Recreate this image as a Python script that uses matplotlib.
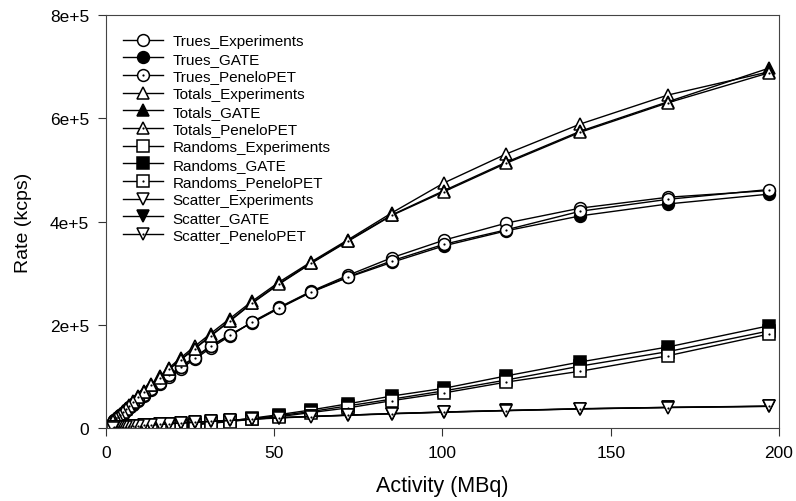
import matplotlib
matplotlib.use("Agg")
import matplotlib.pyplot as plt
import numpy as np

plt.rcParams['font.family'] = ['Liberation Sans', 'DejaVu Sans']

# Activity (MBq)
activity = [197, 167, 141, 119, 100.5, 85, 72, 61, 51.5, 43.5, 36.8, 31.1, 26.3, 22.2,
            18.8, 15.9, 13.4, 11.3, 9.6, 8.1, 6.8, 5.8, 4.9, 4.1, 3.5, 3.0, 2.5, 2.1]

# rates in kcps (values in thousands)
trues_exp = [460, 447, 426, 397, 364, 330, 296, 265, 234, 206, 178, 155, 133, 115,
             99, 85, 73, 62, 53, 45, 38.5, 33, 28, 23.5, 20, 17, 14.5, 12]
trues_gate = [453, 434, 411, 382, 353, 321, 292, 263, 232, 204, 181, 159, 137, 119,
              102, 88, 75, 64, 55, 47, 40, 34, 29, 24.5, 21, 18, 15, 12.5]
trues_pen = [462, 443, 420, 384, 356, 324, 293, 264, 233, 205, 180, 158, 136, 118,
             102, 87, 75, 64, 55, 47, 40, 34, 29, 24.5, 21, 18, 15, 12.5]

totals_exp = [690, 645, 589, 531, 475, 417, 365, 322, 283, 246, 212, 183, 158, 136,
              117, 100, 85, 72, 61.5, 52, 44, 37.5, 32, 27, 23, 19.5, 16.5, 14]
totals_gate = [697, 632, 575, 515, 460, 413, 363, 320, 280, 243, 208, 179, 154, 133,
               114, 98, 83, 70, 60, 51, 43, 37, 31, 26, 22, 19, 16, 13.5]
totals_pen = [688, 630, 573, 513, 458, 412, 362, 319, 279, 242, 207, 178, 153, 132,
              114, 97, 83, 70, 60, 51, 43, 37, 31, 26, 22, 19, 16, 13.5]

randoms_exp = [188, 148, 120, 93, 72, 56, 43, 32, 24, 18, 13, 9.5, 7, 5,
               3.7, 2.7, 1.9, 1.4, 1.0, 0.75, 0.55, 0.4, 0.3, 0.21, 0.15, 0.11, 0.08, 0.06]
randoms_gate = [198, 157, 128, 101, 77, 62, 47, 35, 26, 19, 14, 10.5, 7.5, 5.5,
                4, 2.9, 2.1, 1.5, 1.1, 0.8, 0.58, 0.42, 0.3, 0.22, 0.16, 0.12, 0.08, 0.06]
randoms_pen = [182, 140, 110, 89, 68, 53, 39, 30, 22, 17, 12.5, 9, 6.5, 4.7,
               3.4, 2.5, 1.8, 1.3, 0.95, 0.7, 0.5, 0.37, 0.27, 0.2, 0.14, 0.1, 0.07, 0.05]

scatter_exp = [42, 40, 37, 34, 31, 28, 25, 22.5, 20, 17.5, 15, 13, 11.3, 9.8,
               8.4, 7.2, 6.1, 5.2, 4.5, 3.8, 3.2, 2.7, 2.3, 2.0, 1.7, 1.4, 1.2, 1.0]
scatter_gate = [42.5, 40, 37.5, 34, 31, 28, 25, 22.5, 20, 17.5, 15, 13, 11.3, 9.8,
                8.4, 7.2, 6.1, 5.2, 4.5, 3.8, 3.2, 2.7, 2.3, 2.0, 1.7, 1.4, 1.2, 1.0]
scatter_pen = [42, 39.5, 37, 33.5, 30.5, 27.5, 24.5, 22, 19.5, 17, 14.7, 12.8, 11.1, 9.6,
               8.2, 7.1, 6.0, 5.1, 4.4, 3.7, 3.1, 2.6, 2.2, 1.9, 1.6, 1.3, 1.1, 0.9]

series = [
    ('Trues_Experiments', trues_exp, 'o', 'exp'),
    ('Trues_GATE', trues_gate, 'o', 'gate'),
    ('Trues_PeneloPET', trues_pen, 'o', 'pen'),
    ('Totals_Experiments', totals_exp, '^', 'exp'),
    ('Totals_GATE', totals_gate, '^', 'gate'),
    ('Totals_PeneloPET', totals_pen, '^', 'pen'),
    ('Randoms_Experiments', randoms_exp, 's', 'exp'),
    ('Randoms_GATE', randoms_gate, 's', 'gate'),
    ('Randoms_PeneloPET', randoms_pen, 's', 'pen'),
    ('Scatter_Experiments', scatter_exp, 'v', 'exp'),
    ('Scatter_GATE', scatter_gate, 'v', 'gate'),
    ('Scatter_PeneloPET', scatter_pen, 'v', 'pen'),
]

fig = plt.figure(figsize=(7.96, 5.02), dpi=100)
ax = fig.add_axes([0.1332, 0.1454, 0.8454, 0.8227])

x = np.array(activity)
handles = []
labels = []
for nome, vals, mk, tipo in series:
    y = np.array(vals) * 1000
    face = 'black' if tipo == 'gate' else 'white'
    ms = 8.5 if mk in ('o', 's') else 9
    linha, = ax.plot(x, y, color='black', linewidth=1.0, marker=mk, markersize=ms,
                     markerfacecolor=face, markeredgecolor='black', markeredgewidth=1.1)
    if tipo == 'pen':
        # ponto central dos marcadores do PeneloPET
        ponto, = ax.plot(x, y, linestyle='none', marker='o', markersize=1.6,
                         color='black', markeredgewidth=0)
        handles.append((linha, ponto))
    else:
        handles.append(linha)
    labels.append(nome)

ax.set_xlim(0, 200)
ax.set_ylim(0, 800000)
ax.set_xticks([0, 50, 100, 150, 200])
ax.set_yticks([0, 200000, 400000, 600000, 800000])
ax.set_yticklabels(['0', '2e+5', '4e+5', '6e+5', '8e+5'])
ax.tick_params(direction='out', length=6, width=0.8, labelsize=12.5, color='#333333')
ax.tick_params(axis='x', pad=6)
ax.tick_params(axis='y', pad=6)

for sp in ax.spines.values():
    sp.set_linewidth(0.8)
    sp.set_color('#444444')

ax.set_xlabel('Activity (MBq)', fontsize=15.5, labelpad=11)
ax.set_ylabel('Rate (kcps)', fontsize=14, labelpad=13)

ax.legend(handles, labels, loc='upper left', frameon=False, fontsize=11,
          handlelength=2.6, labelspacing=0.24, borderaxespad=0.3,
          bbox_to_anchor=(0.01, 0.98), handletextpad=0.6)

fig.savefig('out.png', dpi=100)
